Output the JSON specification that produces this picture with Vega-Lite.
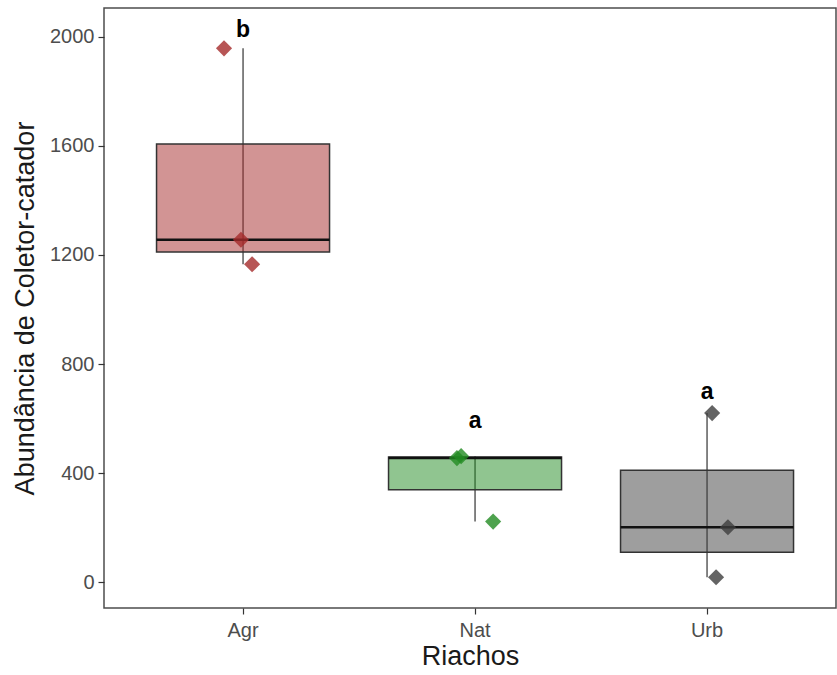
{
  "$schema": "https://vega.github.io/schema/vega-lite/v6.json",
  "autosize": "none",
  "width": 732,
  "height": 600,
  "padding": {"left": 104, "top": 8, "right": 1, "bottom": 67},
  "background": "white",
  "config": {
    "font": "Liberation Sans",
    "view": {"stroke": "#4d4d4d", "strokeWidth": 1.5},
    "axis": {"grid": false, "domain": false, "tickColor": "#333333", "tickSize": 6, "tickWidth": 1.2,
             "labelFont": "Liberation Sans", "labelFontSize": 20, "labelColor": "#4d4d4d",
             "titleFont": "Liberation Sans", "titleFontSize": 27, "titleFontWeight": "normal", "titleColor": "#1a1a1a"}
  },
  "datasets": {
    "pts": [
      {"Riachos": "Agr", "value": 1958, "jitter": -0.082},
      {"Riachos": "Agr", "value": 1256, "jitter": -0.009},
      {"Riachos": "Agr", "value": 1166, "jitter": 0.039},
      {"Riachos": "Nat", "value": 455, "jitter": -0.078},
      {"Riachos": "Nat", "value": 462, "jitter": -0.06},
      {"Riachos": "Nat", "value": 222, "jitter": 0.078},
      {"Riachos": "Urb", "value": 620, "jitter": 0.022},
      {"Riachos": "Urb", "value": 201, "jitter": 0.09},
      {"Riachos": "Urb", "value": 18, "jitter": 0.039}
    ],
    "letters": [
      {"Riachos": "Agr", "pos": 2026, "label": "b"},
      {"Riachos": "Nat", "pos": 591, "label": "a"},
      {"Riachos": "Urb", "pos": 697, "label": "a"}
    ]
  },
  "encoding": {
    "x": {"field": "Riachos", "type": "nominal",
          "scale": {"type": "band", "paddingInner": 0, "paddingOuter": 0.0776, "align": 0.64},
          "axis": {"labelAngle": 0, "labelPadding": 6, "titlePadding": 3, "title": "Riachos"}}
  },
  "layer": [
    {
      "data": {"name": "pts"},
      "mark": {"type": "rule", "color": "#333333", "strokeWidth": 1.2},
      "encoding": {
        "y": {"aggregate": "min", "field": "value", "type": "quantitative",
              "scale": {"domain": [-95, 2106], "nice": false, "zero": false},
              "axis": {"values": [0, 400, 800, 1200, 1600, 2000], "format": "d", "title": "Abundância de Coletor-catador", "labelPadding": 4, "titlePadding": 10}},
        "y2": {"aggregate": "max", "field": "value"}
      }
    },
    {
      "data": {"name": "pts"},
      "mark": {"type": "bar", "fillOpacity": 0.5, "stroke": "#333333", "strokeWidth": 1.5, "width": 173},
      "encoding": {
        "y": {"aggregate": "q1", "field": "value", "type": "quantitative"},
        "y2": {"aggregate": "q3", "field": "value"},
        "fill": {"field": "Riachos", "type": "nominal", "legend": null,
                 "scale": {"domain": ["Agr", "Nat", "Urb"], "range": ["#a52a2a", "#228b22", "#3d3d3d"]}}
      }
    },
    {
      "data": {"name": "pts"},
      "mark": {"type": "tick", "color": "#111111", "thickness": 2.5, "size": 173, "opacity": 1},
      "encoding": {
        "y": {"aggregate": "median", "field": "value", "type": "quantitative"}
      }
    },
    {
      "data": {"name": "pts"},
      "mark": {"type": "point", "shape": "diamond", "filled": true, "size": 260, "opacity": 0.8},
      "encoding": {
        "y": {"field": "value", "type": "quantitative"},
        "xOffset": {"field": "jitter", "type": "quantitative", "scale": {"domain": [-0.5, 0.5]}},
        "fill": {"field": "Riachos", "type": "nominal", "legend": null}
      }
    },
    {
      "data": {"name": "letters"},
      "mark": {"type": "text", "fontSize": 23, "fontWeight": "bold", "color": "black", "baseline": "middle", "font": "Liberation Sans"},
      "encoding": {
        "y": {"field": "pos", "type": "quantitative"},
        "text": {"field": "label"}
      }
    }
  ]
}
